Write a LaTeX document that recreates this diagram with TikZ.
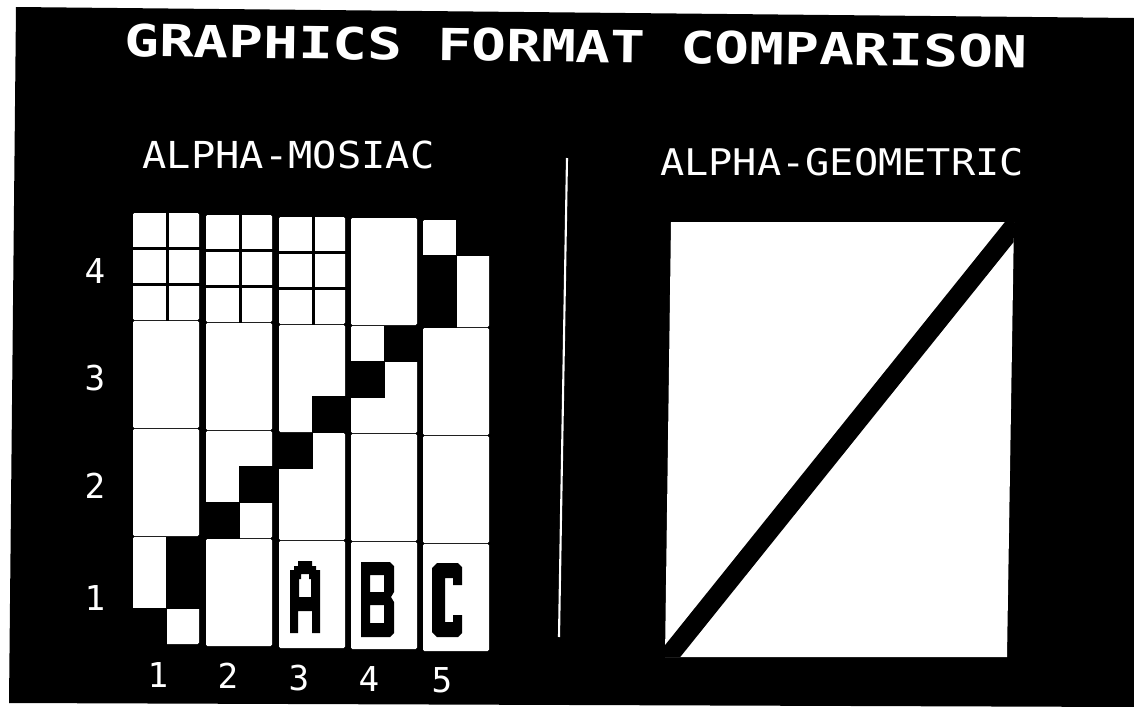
\documentclass[tikz,border=0pt]{standalone}
\usepackage{fontspec}
\usepackage{graphicx}
\newfontfamily\dvm{DejaVu Sans Mono}
\begin{document}
\begin{tikzpicture}[x=0.02cm,y=-0.02cm,
  txt/.style={text=white, inner sep=0pt, anchor=base},
  lbl/.style={txt, font=\dvm\fontsize{19.5pt}{20pt}\selectfont},
  cellw/.style={fill=white, rounded corners=0.8pt},
  blk/.style={fill=black},
  glyph/.style={fill=black, even odd rule}]
\useasboundingbox (0,0) rectangle (1134,707);
\fill[white] (0,0) rectangle (1134,707);
\fill[black] (16,7) -- (1134,18) -- (1134,707) -- (9,703) -- cycle;

% titles
\node[txt, rotate=-0.7] (title) at (576,62) {\resizebox{514pt}{18.7pt}{\dvm\bfseries GRAPHICS FORMAT COMPARISON}};
\node[txt] (mosaic) at (288.5,168) {\resizebox{166pt}{15.7pt}{\dvm ALPHA-MOSIAC}};
\node[txt] (geometric) at (842,175) {\resizebox{207pt}{15.5pt}{\dvm ALPHA-GEOMETRIC}};

% divider
\coordinate (dtop) at (567,158);
\coordinate (dbot) at (559,637);
\draw[white, line width=1.2pt] (dtop) -- (dbot);

% row labels
\node[lbl] (r4) at (95,283) {4};
\node[lbl] (r3) at (95,390) {3};
\node[lbl] (r2) at (95,498) {2};
\node[lbl] (r1) at (95,610) {1};
% column labels
\node[lbl] (c1) at (158,687) {1};
\node[lbl] (c2) at (228,688) {2};
\node[lbl] (c3) at (299,690) {3};
\node[lbl] (c4) at (369,691) {4};
\node[lbl] (c5) at (442,692) {5};

% mosaic cells
\foreach \L/\d in {133/0,206/2,279/4,351/5,423/7}
  \foreach \T in {213,321,429,537}
    \fill[cellw] (\L,\T+\d) rectangle ++(66,107);

% separated sub-cells in the top row of columns 1-3
\foreach \L/\d in {133/0,206/2,279/4} {
  \fill[blk] (\L+33,213+\d-1) rectangle ++(2.5,109);
  \fill[blk] (\L-1,213+\d+34) rectangle ++(68,2.5);
  \fill[blk] (\L-1,213+\d+70) rectangle ++(68,2.5);
}

% black mosaic sub-cells (staircase)
\foreach \L/\T/\i/\j in {133/537/1/0, 133/537/1/1, 133/537/0/2,
    206/431/1/1, 206/431/0/2, 279/433/0/0, 279/325/1/2,
    351/326/1/0, 351/326/0/1, 423/220/1/0, 423/220/0/1, 423/220/0/2}
  \fill[blk] (\L+\i*33-0.5,\T+\j*35.67-0.5) rectangle ++(34,36.67);

% letters A B C
\fill[glyph] (298,561)--(312,561)--(312,566)--(316,566)--(316,570)--(320,570)--(320,633)--(312,633)--(312,611)--(298,611)--(298,633)--(290,633)--(290,570)--(294,570)--(294,566)--(298,566)--cycle
  (301,574)--(309,574)--(309,579)--(311,579)--(311,597)--(299,597)--(299,579)--(301,579)--cycle;
\fill[glyph] (361,562)--(390,562)--(394,566)--(394,592)--(391,597)--(394,602)--(394,633)--(390,637)--(361,637)--cycle
  (370,575)--(384,575)--(384,592)--(370,592)--cycle
  (370,605)--(384,605)--(384,623)--(370,623)--cycle;
\fill[glyph] (437,563)--(458,563)--(462,567)--(462,585)--(453,585)--(453,578)--(445,578)--(445,622)--(453,622)--(453,615)--(462,615)--(462,633)--(458,637)--(437,637)--(432,632)--(432,568)--cycle;

% geometric panel
\coordinate (g1) at (671,222);
\coordinate (g2) at (1014,222);
\coordinate (g3) at (1007,657);
\coordinate (g4) at (665,657);
\fill[white] (g1)--(g2)--(g3)--(g4)--cycle;
\begin{scope}
  \clip (g1)--(g2)--(g3)--(g4)--cycle;
  \coordinate (bandtop) at (1035,200);
  \coordinate (bandbot) at (651,678);
  \draw[black, line width=11pt] (bandtop) -- (bandbot);
\end{scope}
\end{tikzpicture}
\end{document}
